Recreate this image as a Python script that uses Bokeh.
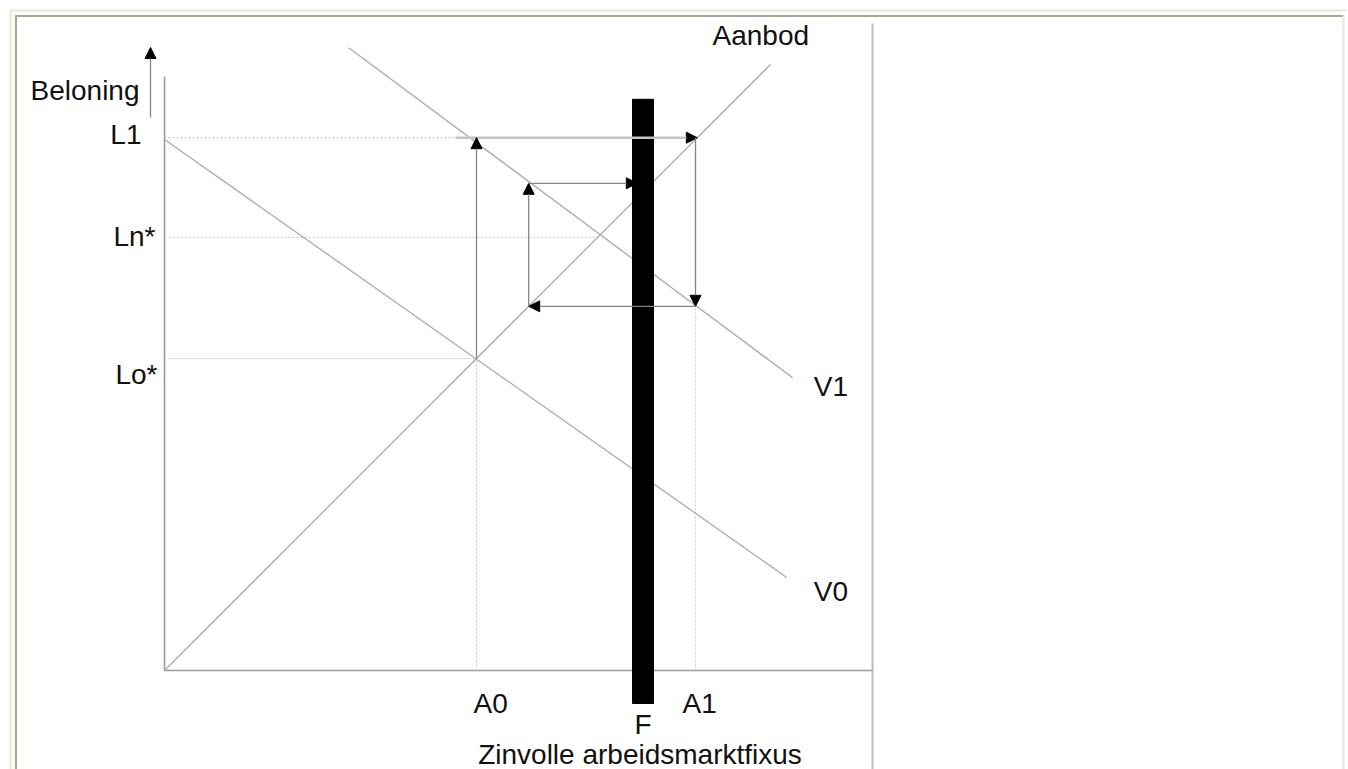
from bokeh.plotting import figure
from bokeh.models import Range1d, ColumnDataSource, Arrow, NormalHead
from bokeh.core.properties import value
from bokeh.embed import file_html
from bokeh.resources import INLINE

# ---------------- model values (diagram units) ----------------
supply_x = [0.0, 101.0]          # Aanbod
supply_y = [0.0, 101.0]
v0_x = [0.0, 103.7]              # demand V0
v0_y = [88.5, 15.5]
v1_x = [30.7, 104.7]             # demand V1
v1_y = [103.8, 48.8]

wage_names = ["L1", "Ln*", "Lo*"]
wage_levels = [88.8, 72.2, 52.0]
qty_names = ["A0", "A1"]
qty_levels = [52.0, 88.5]

fix_name = "F"
fix_caption = "Zinvolle arbeidsmarktfixus"
fix_x = 79.75
fix_bottom = -5.5
fix_top = 95.2

# cobweb arrows (start -> end)
cob_x0 = [52.0, 88.5, 88.5, 60.7, 60.7]
cob_y0 = [52.0, 88.8, 60.7, 60.7, 81.2]
cob_x1 = [52.0, 88.5, 60.7, 60.7, 78.8]
cob_y1 = [88.8, 60.7, 60.7, 81.2, 81.2]
# wage L1 line reaching supply
l1_x0 = 48.5
l1_x1 = 88.8

x_axis_end = 118.0
y_axis_end = 99.0
axis_labels = ["Beloning", "Aanbod", "V1", "V0"]

# ---------------- figure ----------------
W, H = 1348, 769
PX = 6.0            # pixels per diagram unit
OX, OY = 164, 670   # screen position of origin
ORG = 0             # screen position of the figure's top-left corner


def sx(X):
    return (X - OX) / PX


def sy(Y):
    return (OY - Y) / PX


p = figure(width=W, height=H, output_backend="svg", toolbar_location=None,
           x_range=Range1d(sx(ORG), sx(ORG + W)), y_range=Range1d(sy(ORG + H), sy(ORG)),
           x_axis_location=None, y_axis_location=None, min_border=0,
           background_fill_color="white", border_fill_color="white")
p.grid.visible = False
p.outline_line_color = None

# page frame decoration
p.segment(x0=[sx(10), sx(10)], y0=[sy(10), sy(10)], x1=[sx(1346), sx(10)], y1=[sy(10), sy(770)],
          line_color="#ebe6d6", line_width=2)
p.segment(x0=[sx(15), sx(15.5)], y0=[sy(15.5), sy(15)], x1=[sx(1343), sx(15.5)], y1=[sy(15.5), sy(770)],
          line_color="#a9a597", line_width=2)
p.segment(x0=[sx(1343)], y0=[sy(15)], x1=[sx(1343)], y1=[sy(770)],
          line_color="#ebe6d6", line_width=2)
# image right edge
p.segment(x0=[x_axis_end], y0=[sy(23)], x1=[x_axis_end], y1=[sy(770)],
          line_color="#bdbdbd", line_width=2)

# axes
p.line([0, 0], [0, y_axis_end], line_color="#9a9a9a", line_width=1.6)
p.line([0, x_axis_end], [0, 0], line_color="#9a9a9a", line_width=1.6)

# dotted guide lines
dot_col = "#cfcaca"
p.segment(x0=[0, 0, 0], y0=wage_levels, x1=[l1_x0, wage_levels[1], qty_levels[0]], y1=wage_levels,
          line_color=dot_col, line_width=1.2, line_dash="2 2")
p.segment(x0=qty_levels, y0=[0, 0], x1=qty_levels, y1=[wage_levels[2], cob_y0[2]],
          line_color=dot_col, line_width=1.2, line_dash="2 2")

# supply and demand lines
for xs, ys in [(supply_x, supply_y), (v0_x, v0_y), (v1_x, v1_y)]:
    p.line(xs, ys, line_color="#aaaaaa", line_width=1.3)

# L1 line (lighter, thicker) with arrow
p.add_layout(Arrow(end=NormalHead(size=11, fill_color="black", line_color="black", line_width=1),
                   x_start=l1_x0, y_start=wage_levels[0], x_end=l1_x1, y_end=wage_levels[0],
                   line_color="#c4c4c4", line_width=2.4))

# cobweb arrows
cob_src = ColumnDataSource(dict(x0=cob_x0, y0=cob_y0, x1=cob_x1, y1=cob_y1))
p.add_layout(Arrow(end=NormalHead(size=11, fill_color="black", line_color="black", line_width=1),
                   x_start="x0", y_start="y0", x_end="x1", y_end="y1", source=cob_src,
                   line_color="#858585", line_width=1.3))

# Beloning direction arrow
p.add_layout(Arrow(end=NormalHead(size=11, fill_color="black", line_color="black", line_width=1),
                   x_start=sx(150), y_start=sy(117), x_end=sx(150), y_end=sy(47),
                   line_color="#858585", line_width=1.3))

# fixation bar F
p.vbar(x=[fix_x], width=3.5, bottom=[fix_bottom], top=[fix_top], fill_color="black", line_color="black")

# ---------------- labels ----------------
lab = ColumnDataSource(dict(
    x=[0, 0, 0, qty_levels[0], qty_levels[1], fix_x, fix_x,
       0, supply_x[1], v1_x[1], v0_x[1]],
    y=[wage_levels[0], wage_levels[1], wage_levels[2], 0, 0, 0, 0,
       y_axis_end, supply_y[1], v1_y[1], v0_y[1]],
    text=wage_names + qty_names + [fix_name, fix_caption] + axis_labels,
    align=["right", "right", "right", "left", "left", "center", "center",
           "right", "left", "left", "left"],
    xo=[-23, -9, -7, -3, -13, 0, -3, -25, -58, 21, 27],
    yo=[-3, -1, 16, 33, 33, 54, 84, 14, -29, 9, 14],
))
p.text(x="x", y="y", text="text", source=lab, text_align="align", text_baseline="alphabetic",
       x_offset="xo", y_offset="yo", text_font=value("Liberation Sans"), text_font_size="28px",
       text_color="#111111")

open("out.html", "w").write(file_html(p, INLINE))
